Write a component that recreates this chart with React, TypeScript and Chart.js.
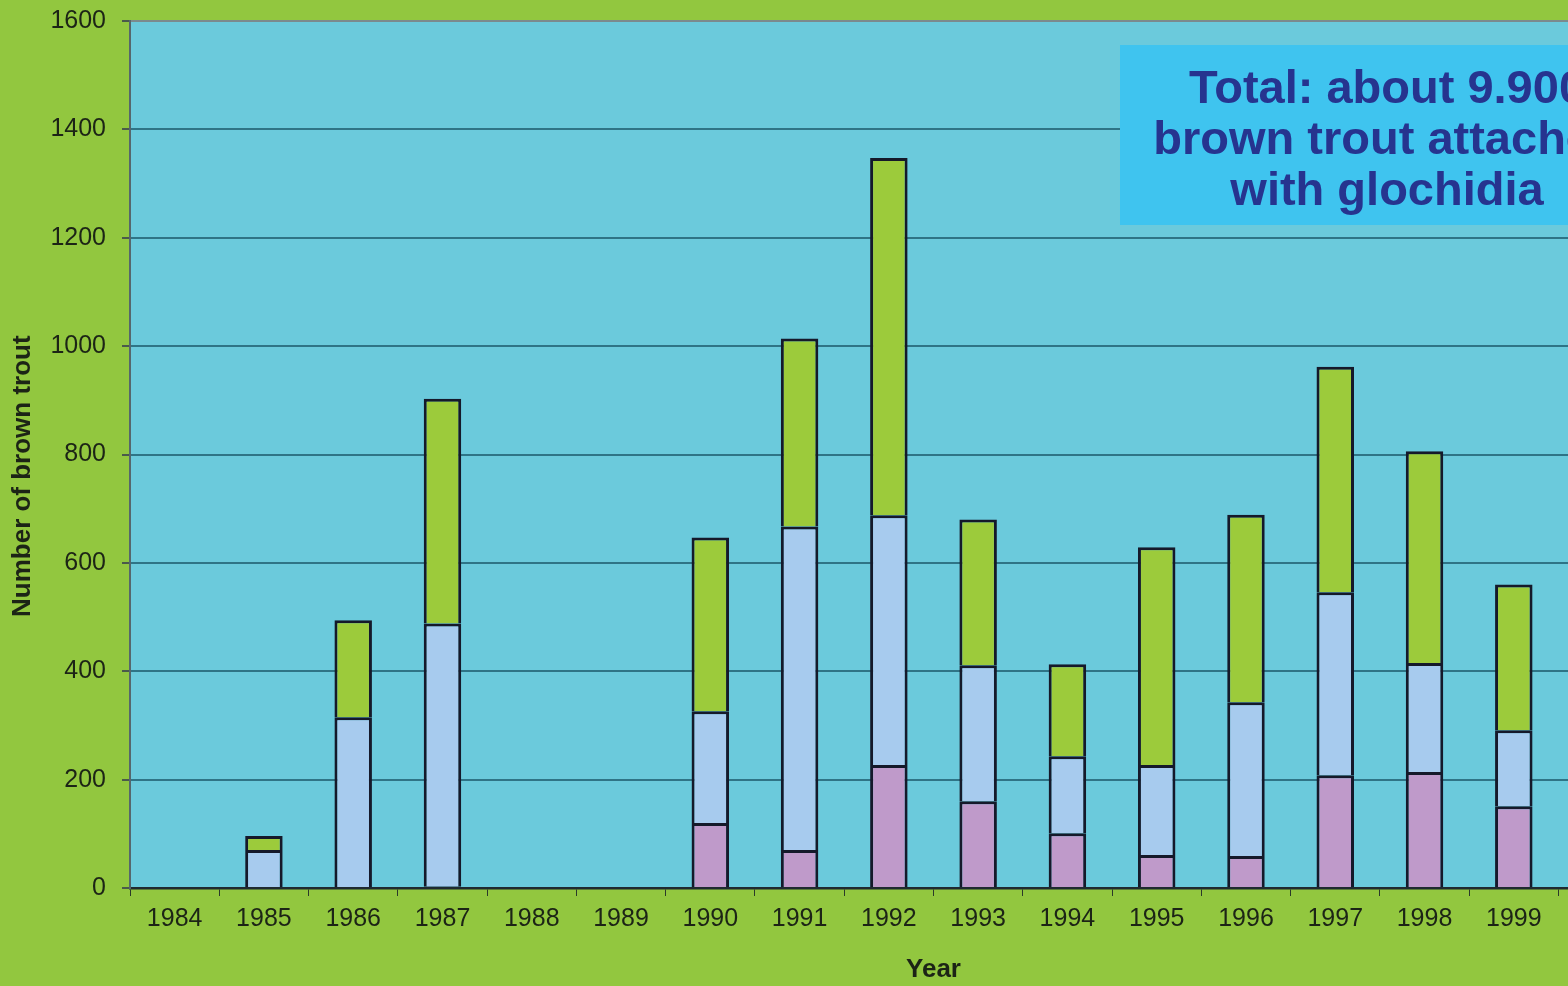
import React, { useEffect, useRef } from "react";
import { Chart, registerables } from "chart.js";

Chart.register(...registerables);

const years = ["1984", "1985", "1986", "1987", "1988", "1989", "1990", "1991", "1992", "1993", "1994", "1995", "1996", "1997", "1998", "1999", "2000", "2001"];
const purpleValues = [null, 0, 0, 3, null, null, 120, 70, 227, 160, 101, 61, 59, 208, 214, 151, null, null];
const blueValues = [null, 70, 315, 485, null, null, 206, 597, 461, 251, 142, 166, 284, 338, 201, 140, null, null];
const greenValues = [null, 26, 179, 415, null, null, 321, 347, 659, 269, 170, 402, 346, 416, 391, 269, null, null];
const yTicks = [0, 200, 400, 600, 800, 1000, 1200, 1400, 1600];
const noteLines = ["Total: about 9.900", "brown trout attached", "with glochidia"];

const PAGE_BG = "#92c73f";
const PLOT_BG = "#6bcadc";

const backgroundPlugin = {
  id: "bgPlugin",
  beforeDraw(chart: any) {
    const { ctx, chartArea } = chart;
    ctx.save();
    ctx.fillStyle = PAGE_BG;
    ctx.fillRect(0, 0, chart.width, chart.height);
    ctx.fillStyle = PLOT_BG;
    ctx.fillRect(chartArea.left, chartArea.top, chartArea.right - chartArea.left, chartArea.bottom - chartArea.top);
    ctx.restore();
  },
};

const notePlugin = {
  id: "notePlugin",
  beforeDatasetsDraw(chart: any) {
    const { ctx, chartArea } = chart;
    const left = chartArea.left + 990;
    const right = left + 534;
    const top = chartArea.top + 24;
    const bottom = chartArea.top + 204;
    ctx.save();
    ctx.fillStyle = "#3fc4ef";
    ctx.fillRect(left, top, right - left, bottom - top);
    ctx.fillStyle = "#26348f";
    ctx.font = "bold 47px 'Liberation Sans', Arial, sans-serif";
    ctx.textAlign = "center";
    ctx.textBaseline = "alphabetic";
    const cx = (left + right) / 2;
    noteLines.forEach((line, i) => {
      ctx.fillText(line, cx, top + 58 + i * 51);
    });
    ctx.restore();
  },
};

export default function App() {
  const ref = useRef<HTMLCanvasElement | null>(null);
  useEffect(() => {
    if (!ref.current) return;
    const border = "#15192a";
    const common = { borderColor: border, borderWidth: 3, borderSkipped: "start", barPercentage: 0.42, categoryPercentage: 1 };
    const chart = new Chart(ref.current, {
      type: "bar",
      data: {
        labels: years,
        datasets: [
          { label: "Series 1", data: purpleValues, backgroundColor: "#bf9aca", ...common },
          { label: "Series 2", data: blueValues, backgroundColor: "#a7cbee", ...common },
          { label: "Series 3", data: greenValues, backgroundColor: "#9ccb3b", ...common },
        ],
      } as any,
      options: {
        animation: false,
        responsive: false,
        devicePixelRatio: 1,
        layout: { padding: { top: 10, right: 23, left: 0, bottom: 0 } },
        plugins: { legend: { display: false }, tooltip: { enabled: false } },
        scales: {
          x: {
            stacked: true,
            grid: { drawOnChartArea: false, drawTicks: true, tickLength: 8, color: "#2b3a2a", offset: true },
            border: { color: "#1f2a30", width: 2.5 },
            ticks: { color: "#1c2416", font: { size: 25, family: "'Liberation Sans', Arial, sans-serif" }, padding: 8, maxRotation: 0, autoSkip: false },
            title: { display: true, text: "Year", color: "#1c2416", font: { size: 26, weight: "bold", family: "'Liberation Sans', Arial, sans-serif" }, padding: { top: 0, bottom: 1 } },
            afterFit: (s: any) => { s.height = 98; },
          },
          y: {
            stacked: true,
            min: 0,
            max: 1600,
            afterBuildTicks: (s: any) => { s.ticks = yTicks.map((v) => ({ value: v })); },
            grid: {
              color: (c: any) => (c.tick && c.tick.value === 1600 ? "#7b8a8e" : "#2f7486"),
              tickColor: "#4a5a4a",
              lineWidth: 2,
              tickLength: 8,
            },
            border: { color: "#56666c", width: 2 },
            ticks: { color: "#1c2416", font: { size: 25, family: "'Liberation Sans', Arial, sans-serif" }, padding: 16, callback: (v: any) => String(v) },
            title: { display: true, text: "Number of brown trout      ", color: "#1c2416", font: { size: 26, weight: "bold", family: "'Liberation Sans', Arial, sans-serif" }, padding: { top: 7, bottom: 0 } },
            afterFit: (s: any) => { s.width = 130; },
          },
        },
      } as any,
      plugins: [backgroundPlugin, notePlugin],
    });
    return () => chart.destroy();
  }, []);
  return (
    <div style={{ position: "fixed", left: 0, top: 0, width: 1568, height: 986, overflow: "hidden", background: PAGE_BG }}>
      <canvas ref={ref} width={1760} height={996} style={{ display: "block", position: "relative", top: -10, width: 1760, height: 996 }} />
    </div>
  );
}
